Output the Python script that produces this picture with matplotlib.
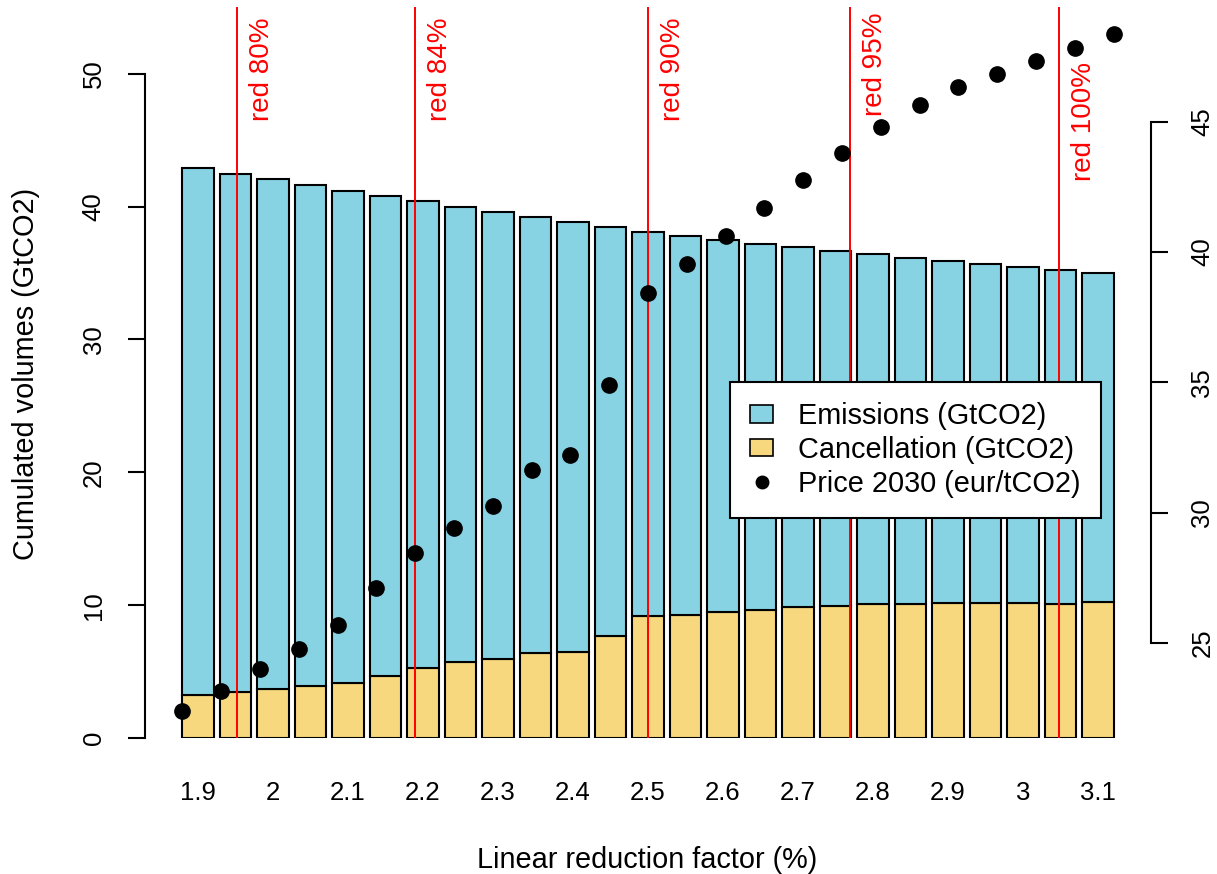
import numpy as np
import matplotlib.pyplot as plt
from matplotlib.lines import Line2D
from matplotlib.patches import Patch
from matplotlib.transforms import offset_copy

plt.rcParams['font.family'] = ['Liberation Sans', 'DejaVu Sans']

# linear reduction factor (%) for each scenario
lrf = [1.90, 1.95, 2.00, 2.05, 2.10, 2.15, 2.20, 2.25, 2.30, 2.35, 2.40, 2.45, 2.50,
       2.55, 2.60, 2.65, 2.70, 2.75, 2.80, 2.85, 2.90, 2.95, 3.00, 3.05, 3.10]
# stacked bars (GtCO2)
cancellation = [3.25, 3.45, 3.70, 3.95, 4.15, 4.70, 5.30, 5.70, 5.95, 6.40, 6.50, 7.65, 9.15,
                9.25, 9.45, 9.65, 9.85, 9.95, 10.05, 10.10, 10.15, 10.15, 10.15, 10.10, 10.20]
emissions = [39.65, 39.02, 38.35, 37.65, 37.05, 36.10, 35.10, 34.25, 33.65, 32.80, 32.35, 30.85, 28.97,
             28.55, 28.05, 27.55, 27.10, 26.70, 26.35, 26.05, 25.75, 25.50, 25.30, 25.12, 24.80]
# price 2030 (eur/tCO2), right axis
price = [22.40, 23.18, 23.99, 24.78, 25.69, 27.11, 28.45, 29.43, 30.27, 31.63, 32.22, 34.90, 38.42,
         39.55, 40.63, 41.70, 42.75, 43.80, 44.78, 45.65, 46.32, 46.82, 47.33, 47.82, 48.35]
# x labels shown (every other bar)
tick_labels = ['1.9', '2', '2.1', '2.2', '2.3', '2.4', '2.5', '2.6', '2.7', '2.8', '2.9', '3', '3.1']
# reduction markers
red_x = [1.97, 2.20, 2.50, 2.76, 3.03]
red_y = [47.0, 47.0, 47.0, 47.2, 45.0]
red_labels = ['red 80%', 'red 84%', 'red 90%', 'red 95%', 'red 100%']

blue = '#87D3E3'
yellow = '#F8D87F'

W, H = 1217, 874
fig = plt.figure(figsize=(W / 100, H / 100), dpi=100)
pos = [145 / W, (H - 738) / H, (1151 - 145) / W, (738 - 7.3) / H]
ax = fig.add_axes(pos)
ax2 = fig.add_axes(pos)
ax2.patch.set_visible(False)

# barplot
x = np.arange(len(lrf))
bw = 1 / 1.2
ax.bar(x, cancellation, width=bw, color=yellow, edgecolor='black', linewidth=1.5, zorder=2)
ax.bar(x, emissions, bottom=cancellation, width=bw, color=blue, edgecolor='black', linewidth=1.5, zorder=2)
span = (x[-1] + bw / 2) - (x[0] - bw / 2)
ax.set_xlim(x[0] - bw / 2 - 0.04 * span, x[-1] + bw / 2 + 0.04 * span)
ax.set_ylim(0, 55)

for s in ['top', 'right', 'bottom']:
    ax.spines[s].set_visible(False)
ax.spines['left'].set_bounds(0, 50)
ax.spines['left'].set_linewidth(1.5)
ax.set_yticks(np.arange(0, 51, 10))
ax.tick_params(axis='y', length=12, width=1.5, pad=25, labelsize=18.5)
for lbl in ax.get_yticklabels():
    lbl.set_rotation(90)
    lbl.set_ha('center')
    lbl.set_va('center')
ax.set_xticks(x[::2])
ax.set_xticklabels(tick_labels)
ax.tick_params(axis='x', length=0, pad=39.6, labelsize=18.5)
for lbl in ax.get_xticklabels():
    lbl.set_va('center')

# price overlay
rng = max(lrf) - min(lrf)
ax2.set_xlim(min(lrf) - 0.04 * rng, max(lrf) + 0.04 * rng)
prng = max(price) - min(price)
ax2.set_ylim(min(price) - 0.04 * prng, max(price) + 0.04 * prng)
for xv in red_x:
    ax2.axvline(xv, color='red', linewidth=1.4, zorder=2)
ax2.plot(lrf, price, 'o', color='black', markersize=11, zorder=3)
tr = offset_copy(ax2.transData, fig=fig, x=18, y=0, units='points')
for xv, yv, t in zip(red_x, red_y, red_labels):
    ax2.text(xv, yv, t, rotation=90, ha='center', va='center', color='red', fontsize=20, transform=tr)

for s in ['top', 'left', 'bottom']:
    ax2.spines[s].set_visible(False)
ax2.spines['right'].set_bounds(25, 45)
ax2.spines['right'].set_linewidth(1.5)
ax2.set_xticks([])
ax2.yaxis.tick_right()
ax2.set_yticks(np.arange(25, 46, 5))
ax2.tick_params(axis='y', length=12, width=1.5, pad=25, labelsize=18.5)
for lbl in ax2.get_yticklabels():
    lbl.set_rotation(90)
    lbl.set_ha('center')
    lbl.set_va('center')

# legend
handles = [Patch(facecolor=blue, edgecolor='black', linewidth=1.2),
           Patch(facecolor=yellow, edgecolor='black', linewidth=1.2),
           Line2D([], [], marker='o', color='black', linestyle='None', markersize=9)]
labels = ['Emissions (GtCO2)', 'Cancellation (GtCO2)', 'Price 2030 (eur/tCO2)']
leg = ax2.legend(handles, labels, loc='upper left', bbox_to_anchor=(730 / W, 1 - 382 / H),
                 bbox_transform=fig.transFigure, fontsize=20.8, fancybox=False, framealpha=1,
                 edgecolor='black', borderaxespad=0, borderpad=0.7, handlelength=0.8,
                 handleheight=0.55, handletextpad=0.87, labelspacing=0.2)
leg.get_frame().set_linewidth(1.5)
leg.set_zorder(10)

# axis titles
fig.text(26 / W, 1 - 374 / H, 'Cumulated volumes (GtCO2)', rotation=90, ha='center', va='center', fontsize=20.8)
fig.text(647 / W, 1 - 860 / H, 'Linear reduction factor (%)', ha='center', va='center', fontsize=20.8)

fig.savefig('out.png', dpi=100)
